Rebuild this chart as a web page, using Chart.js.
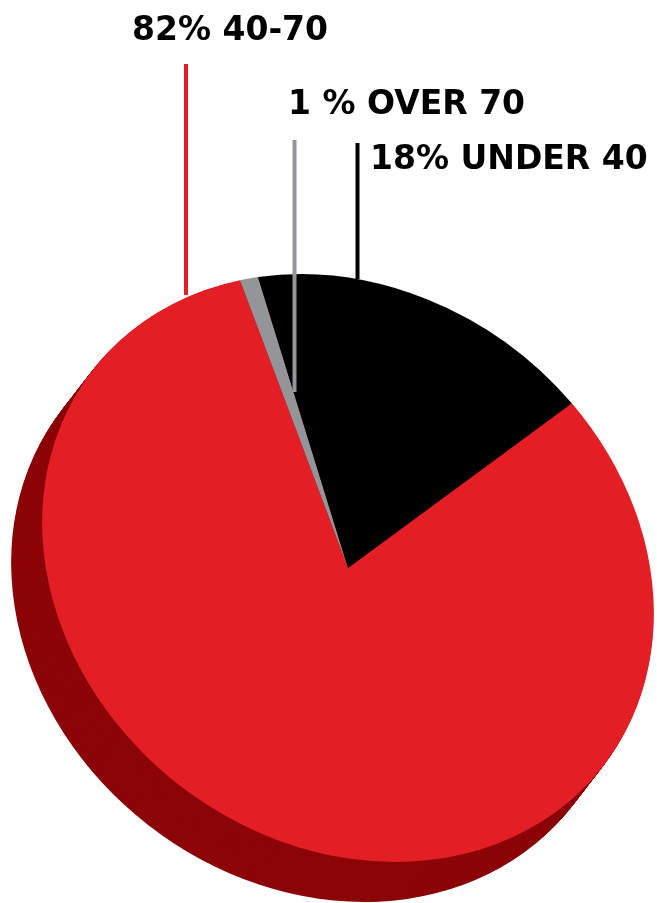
<!DOCTYPE html>
<html>
<head>
<meta charset="utf-8">
<script src="https://cdn.jsdelivr.net/npm/chart.js@4.4.1/dist/chart.umd.min.js"></script>
<style>
  html, body { margin: 0; padding: 0; background: #fff; }
  #wrap { position: relative; width: 657px; height: 903px; }
</style>
</head>
<body>
<div id="wrap"><canvas id="pieChart"></canvas></div>
<script>
// Data
const labels = ["82% 40-70", "1 % OVER 70", "18% UNDER 40"];
const values = [82, 1, 18];
const colors = ["#e31e25", "#939598", "#000000"];

// Label + leader line placement (styling only)
const labelPos = [
  { x: 132, y: 39.5, lineX: 186, lineTop: 64, lineBottom: 295 },
  { x: 288, y: 113.5, lineX: 294.5, lineTop: 140, lineBottom: 392 },
  { x: 370, y: 168.5, lineX: 357.5, lineTop: 143, lineBottom: 279 },
];
const labelFont = "bold 33px 'DejaVu Sans'";

// Tilted "3D" look: the round pie is squashed into a rotated ellipse
const tilt = { a: 323, b: 275, angle: 37.8 };
const depth = { dx: -31, dy: 40, steps: 50 };
const sideColor = "#8c0508";

function applyTilt(ctx, cx, cy, r) {
  const rad = tilt.angle * Math.PI / 180;
  const c = Math.cos(rad), s = Math.sin(rad);
  const sa = tilt.a / r, sb = tilt.b / r;
  ctx.translate(cx, cy);
  ctx.transform(c * sa, s * sa, -s * sb, c * sb, 0, 0);
  ctx.translate(-cx, -cy);
}

const tiltPlugin = {
  id: "tilt",
  beforeDatasetsDraw(chart) {
    const arc = chart.getDatasetMeta(0).data[0];
    const ctx = chart.ctx;
    const { x, y, outerRadius } = arc;

    // side wall of the pie
    ctx.save();
    ctx.fillStyle = sideColor;
    for (let i = depth.steps; i >= 1; i--) {
      ctx.save();
      ctx.translate(depth.dx * i / depth.steps, depth.dy * i / depth.steps);
      applyTilt(ctx, x, y, outerRadius);
      ctx.beginPath();
      ctx.arc(x, y, outerRadius, 0, Math.PI * 2);
      ctx.fill();
      ctx.restore();
    }
    ctx.restore();

    // top face: slices get drawn with this transform
    ctx.save();
    applyTilt(ctx, x, y, outerRadius);
  },
  afterDatasetsDraw(chart) {
    chart.ctx.restore();
  }
};

const labelPlugin = {
  id: "leaderLabels",
  afterDraw(chart) {
    const ctx = chart.ctx;
    ctx.save();
    labels.forEach((text, i) => {
      const p = labelPos[i];
      ctx.strokeStyle = colors[i];
      ctx.lineWidth = 4;
      ctx.lineCap = "butt";
      ctx.beginPath();
      ctx.moveTo(p.lineX, p.lineTop);
      ctx.lineTo(p.lineX, p.lineBottom);
      ctx.stroke();

      ctx.font = labelFont;
      ctx.fillStyle = "#000";
      ctx.textBaseline = "alphabetic";
      ctx.textAlign = "left";
      ctx.fillText(text, p.x, p.y);
    });
    ctx.restore();
  }
};

new Chart(document.getElementById("pieChart"), {
  type: "pie",
  data: {
    labels: labels,
    datasets: [{
      data: values,
      backgroundColor: colors,
      borderWidth: 0,
      clip: false
    }]
  },
  options: {
    responsive: true,
    maintainAspectRatio: false,
    animation: false,
    rotation: 13.6,
    layout: { padding: { left: 48, right: 9, top: 268, bottom: 35 } },
    plugins: {
      legend: { display: false },
      tooltip: { enabled: false }
    }
  },
  plugins: [tiltPlugin, labelPlugin]
});
</script>
</body>
</html>
